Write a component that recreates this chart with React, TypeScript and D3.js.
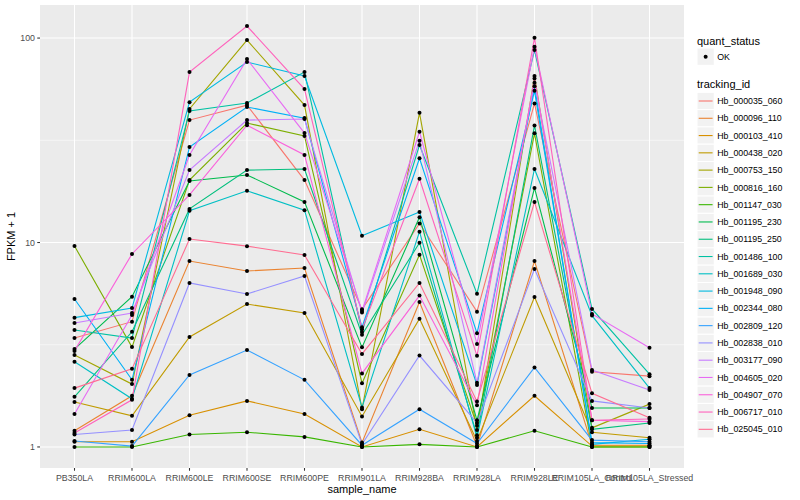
import React from 'react';
import * as d3 from 'd3';

// samples along the x axis
const samples = [
  'PB350LA', 'RRIM600LA', 'RRIM600LE', 'RRIM600SE', 'RRIM600PE', 'RRIM901LA',
  'RRIM928BA', 'RRIM928LA', 'RRIM928LE', 'RRIM105LA_Control', 'RRIM105LA_Stressed'
];

const trackingIds = [
  'Hb_000035_060', 'Hb_000096_110', 'Hb_000103_410', 'Hb_000438_020', 'Hb_000753_150',
  'Hb_000816_160', 'Hb_001147_030', 'Hb_001195_230', 'Hb_001195_250', 'Hb_001486_100',
  'Hb_001689_030', 'Hb_001948_090', 'Hb_002344_080', 'Hb_002809_120', 'Hb_002838_010',
  'Hb_003177_090', 'Hb_004605_020', 'Hb_004907_070', 'Hb_006717_010', 'Hb_025045_010'
];

// ggplot default hue palette, 20 levels
const hueColors = [
  '#F8766D', '#EA8331', '#D89000', '#C09B00', '#A3A500', '#7CAE00', '#39B600', '#00BB4E',
  '#00BF7D', '#00C1A3', '#00BFC4', '#00BAE0', '#00B0F6', '#35A2FF', '#9590FF', '#C77CFF',
  '#E76BF3', '#FA62DB', '#FF62BC', '#FF6C91'
];

// FPKM + 1, one array per tracking_id, in sample order
const hb_000035_060 = [3.41, 4.10, 39.7, 47.0, 20.2, 4.71, 12.4, 4.59, 47.9, 2.33, 2.22];
const hb_000096_110 = [1.20, 1.78, 8.12, 7.26, 7.50, 1.05, 5.12, 1.01, 8.12, 1.02, 1.02];
const hb_000103_410 = [1.06, 1.06, 1.43, 1.68, 1.45, 1.00, 1.22, 1.00, 1.78, 1.01, 1.01];
const hb_000438_020 = [1.66, 1.42, 3.45, 5.00, 4.52, 1.41, 4.24, 1.07, 5.41, 1.18, 1.11];
const hb_000753_150 = [2.82, 2.03, 45.0, 97.8, 47.0, 1.53, 43.1, 1.21, 65.2, 1.24, 1.62];
const hb_000816_160 = [9.61, 3.08, 20.2, 38.4, 33.2, 2.05, 8.71, 1.27, 34.2, 1.00, 1.00];
const hb_001147_030 = [1.00, 1.00, 1.15, 1.18, 1.12, 1.00, 1.03, 1.00, 1.20, 1.00, 1.00];
const hb_001195_230 = [3.01, 5.43, 20.0, 21.4, 15.8, 3.07, 13.3, 1.35, 18.5, 1.55, 1.55];
const hb_001195_250 = [1.76, 3.66, 14.6, 22.6, 22.9, 3.54, 9.97, 1.14, 37.4, 1.22, 1.31];
const hb_001486_100 = [3.73, 3.41, 44.0, 48.1, 68.2, 3.65, 30.0, 5.62, 87.4, 4.73, 2.27];
const hb_001689_030 = [2.61, 1.72, 14.3, 17.9, 14.4, 1.56, 11.3, 1.11, 22.9, 4.39, 1.94];
const hb_001948_090 = [4.29, 4.78, 48.6, 76.3, 65.2, 10.8, 14.1, 2.01, 58.2, 1.03, 1.09];
const hb_002344_080 = [5.29, 2.13, 29.3, 46.0, 40.6, 3.85, 25.8, 3.60, 55.2, 1.05, 1.04];
const hb_002809_120 = [1.07, 1.01, 2.25, 2.98, 2.13, 1.02, 1.53, 1.04, 2.45, 1.08, 1.06];
const hb_002838_010 = [1.15, 1.21, 6.34, 5.60, 6.86, 1.03, 2.80, 1.31, 7.42, 1.68, 1.55];
const hb_003177_090 = [4.04, 4.52, 22.6, 39.7, 40.2, 4.54, 31.5, 2.06, 60.4, 2.38, 1.90];
const hb_004605_020 = [1.45, 4.42, 26.8, 78.9, 34.3, 4.62, 34.8, 3.19, 90.7, 4.47, 3.06];
const hb_004907_070 = [2.95, 8.79, 17.1, 37.5, 26.8, 2.29, 5.50, 1.60, 63.5, 1.35, 1.33];
const hb_006717_010 = [1.17, 1.70, 68.2, 114.5, 56.3, 3.76, 20.5, 2.79, 100.3, 1.35, 1.37];
const hb_025045_010 = [1.94, 2.41, 10.4, 9.60, 8.69, 2.85, 6.34, 1.67, 15.8, 1.83, 1.39];

const seriesValues = [
  hb_000035_060, hb_000096_110, hb_000103_410, hb_000438_020, hb_000753_150,
  hb_000816_160, hb_001147_030, hb_001195_230, hb_001195_250, hb_001486_100,
  hb_001689_030, hb_001948_090, hb_002344_080, hb_002809_120, hb_002838_010,
  hb_003177_090, hb_004605_020, hb_004907_070, hb_006717_010, hb_025045_010
];

const yBreaks = [1, 10, 100];
const yMinorBreaks = [Math.sqrt(10), Math.sqrt(1000)];

const FONT = '"Liberation Sans", Arial, Helvetica, sans-serif';

function App() {
  const panel = { left: 40, right: 684, top: 5, bottom: 468 };

  const x = d3.scalePoint<string>()
    .domain(samples)
    .range([panel.left, panel.right])
    .padding(0.6);

  // log scale with ggplot's 5% expansion in log space
  const all = seriesValues.flat();
  const lo = Math.log10(d3.min(all) as number);
  const hi = Math.log10(d3.max(all) as number);
  const pad = (hi - lo) * 0.05;
  const y = d3.scaleLog()
    .domain([Math.pow(10, lo - pad), Math.pow(10, hi + pad)])
    .range([panel.bottom, panel.top]);

  const line = d3.line<number>()
    .x((_, i) => x(samples[i]) as number)
    .y(d => y(d));

  const legendX = 697;
  const keySize = 17.28;
  const keyTop = 101 - keySize / 2;

  return (
    <svg width={800} height={500} style={{ position: 'absolute', left: 0, top: 0, background: '#fff' }}
      fontFamily={FONT}>
      {/* panel */}
      <rect x={panel.left} y={panel.top} width={panel.right - panel.left}
        height={panel.bottom - panel.top} fill="#EBEBEB" />
      {yMinorBreaks.map(b => (
        <line key={'mn' + b} x1={panel.left} x2={panel.right} y1={y(b)} y2={y(b)}
          stroke="#fff" strokeWidth={0.53} />
      ))}
      {yBreaks.map(b => (
        <line key={'mj' + b} x1={panel.left} x2={panel.right} y1={y(b)} y2={y(b)}
          stroke="#fff" strokeWidth={1.07} />
      ))}
      {samples.map(s => (
        <line key={'vx' + s} x1={x(s)} x2={x(s)} y1={panel.top} y2={panel.bottom}
          stroke="#fff" strokeWidth={1.07} />
      ))}

      {/* lines */}
      {seriesValues.map((vals, i) => (
        <path key={trackingIds[i]} d={line(vals) as string} fill="none"
          stroke={hueColors[i]} strokeWidth={1.1} />
      ))}
      {/* points */}
      {seriesValues.map((vals, i) => vals.map((v, j) => (
        <circle key={trackingIds[i] + j} cx={x(samples[j])} cy={y(v)} r={2} fill="#000" />
      )))}

      {/* y axis */}
      {yBreaks.map(b => (
        <g key={'yt' + b}>
          <line x1={panel.left - 2.75} x2={panel.left} y1={y(b)} y2={y(b)} stroke="#333" strokeWidth={1.07} />
          <text x={panel.left - 5} y={y(b) + 3.1} textAnchor="end" fontSize={8.8} fill="#4D4D4D">{b}</text>
        </g>
      ))}
      <text transform={`translate(15, ${(panel.top + panel.bottom) / 2}) rotate(-90)`}
        textAnchor="middle" fontSize={11} fill="#000">FPKM + 1</text>

      {/* x axis */}
      {samples.map(s => (
        <g key={'xt' + s}>
          <line x1={x(s)} x2={x(s)} y1={panel.bottom} y2={panel.bottom + 2.75} stroke="#333" strokeWidth={1.07} />
          <text x={x(s)} y={480.8} textAnchor="middle" fontSize={8.8} fill="#4D4D4D">{s}</text>
        </g>
      ))}
      <text x={(panel.left + panel.right) / 2} y={492.5} textAnchor="middle" fontSize={11} fill="#000">sample_name</text>

      {/* legend: quant_status */}
      <text x={legendX} y={44.6} fontSize={11} fill="#000">quant_status</text>
      <rect x={legendX} y={56.7 - keySize / 2} width={keySize} height={keySize} fill="#F2F2F2" stroke="#fff" />
      <circle cx={legendX + keySize / 2} cy={56.7} r={2} fill="#000" />
      <text x={legendX + keySize + 3} y={59.8} fontSize={8.8} fill="#000">OK</text>

      {/* legend: tracking_id */}
      <text x={legendX} y={88.2} fontSize={11} fill="#000">tracking_id</text>
      {trackingIds.map((id, i) => {
        const top = keyTop + i * keySize;
        return (
          <g key={'lg' + id}>
            <rect x={legendX} y={top} width={keySize} height={keySize} fill="#F2F2F2" stroke="#fff" />
            <line x1={legendX + 1.7} x2={legendX + keySize - 1.7} y1={top + keySize / 2} y2={top + keySize / 2}
              stroke={hueColors[i]} strokeWidth={1.1} />
            <text x={legendX + keySize + 3} y={top + keySize / 2 + 3.1} fontSize={8.8} fill="#000">{id}</text>
          </g>
        );
      })}
    </svg>
  );
}

export default App;
